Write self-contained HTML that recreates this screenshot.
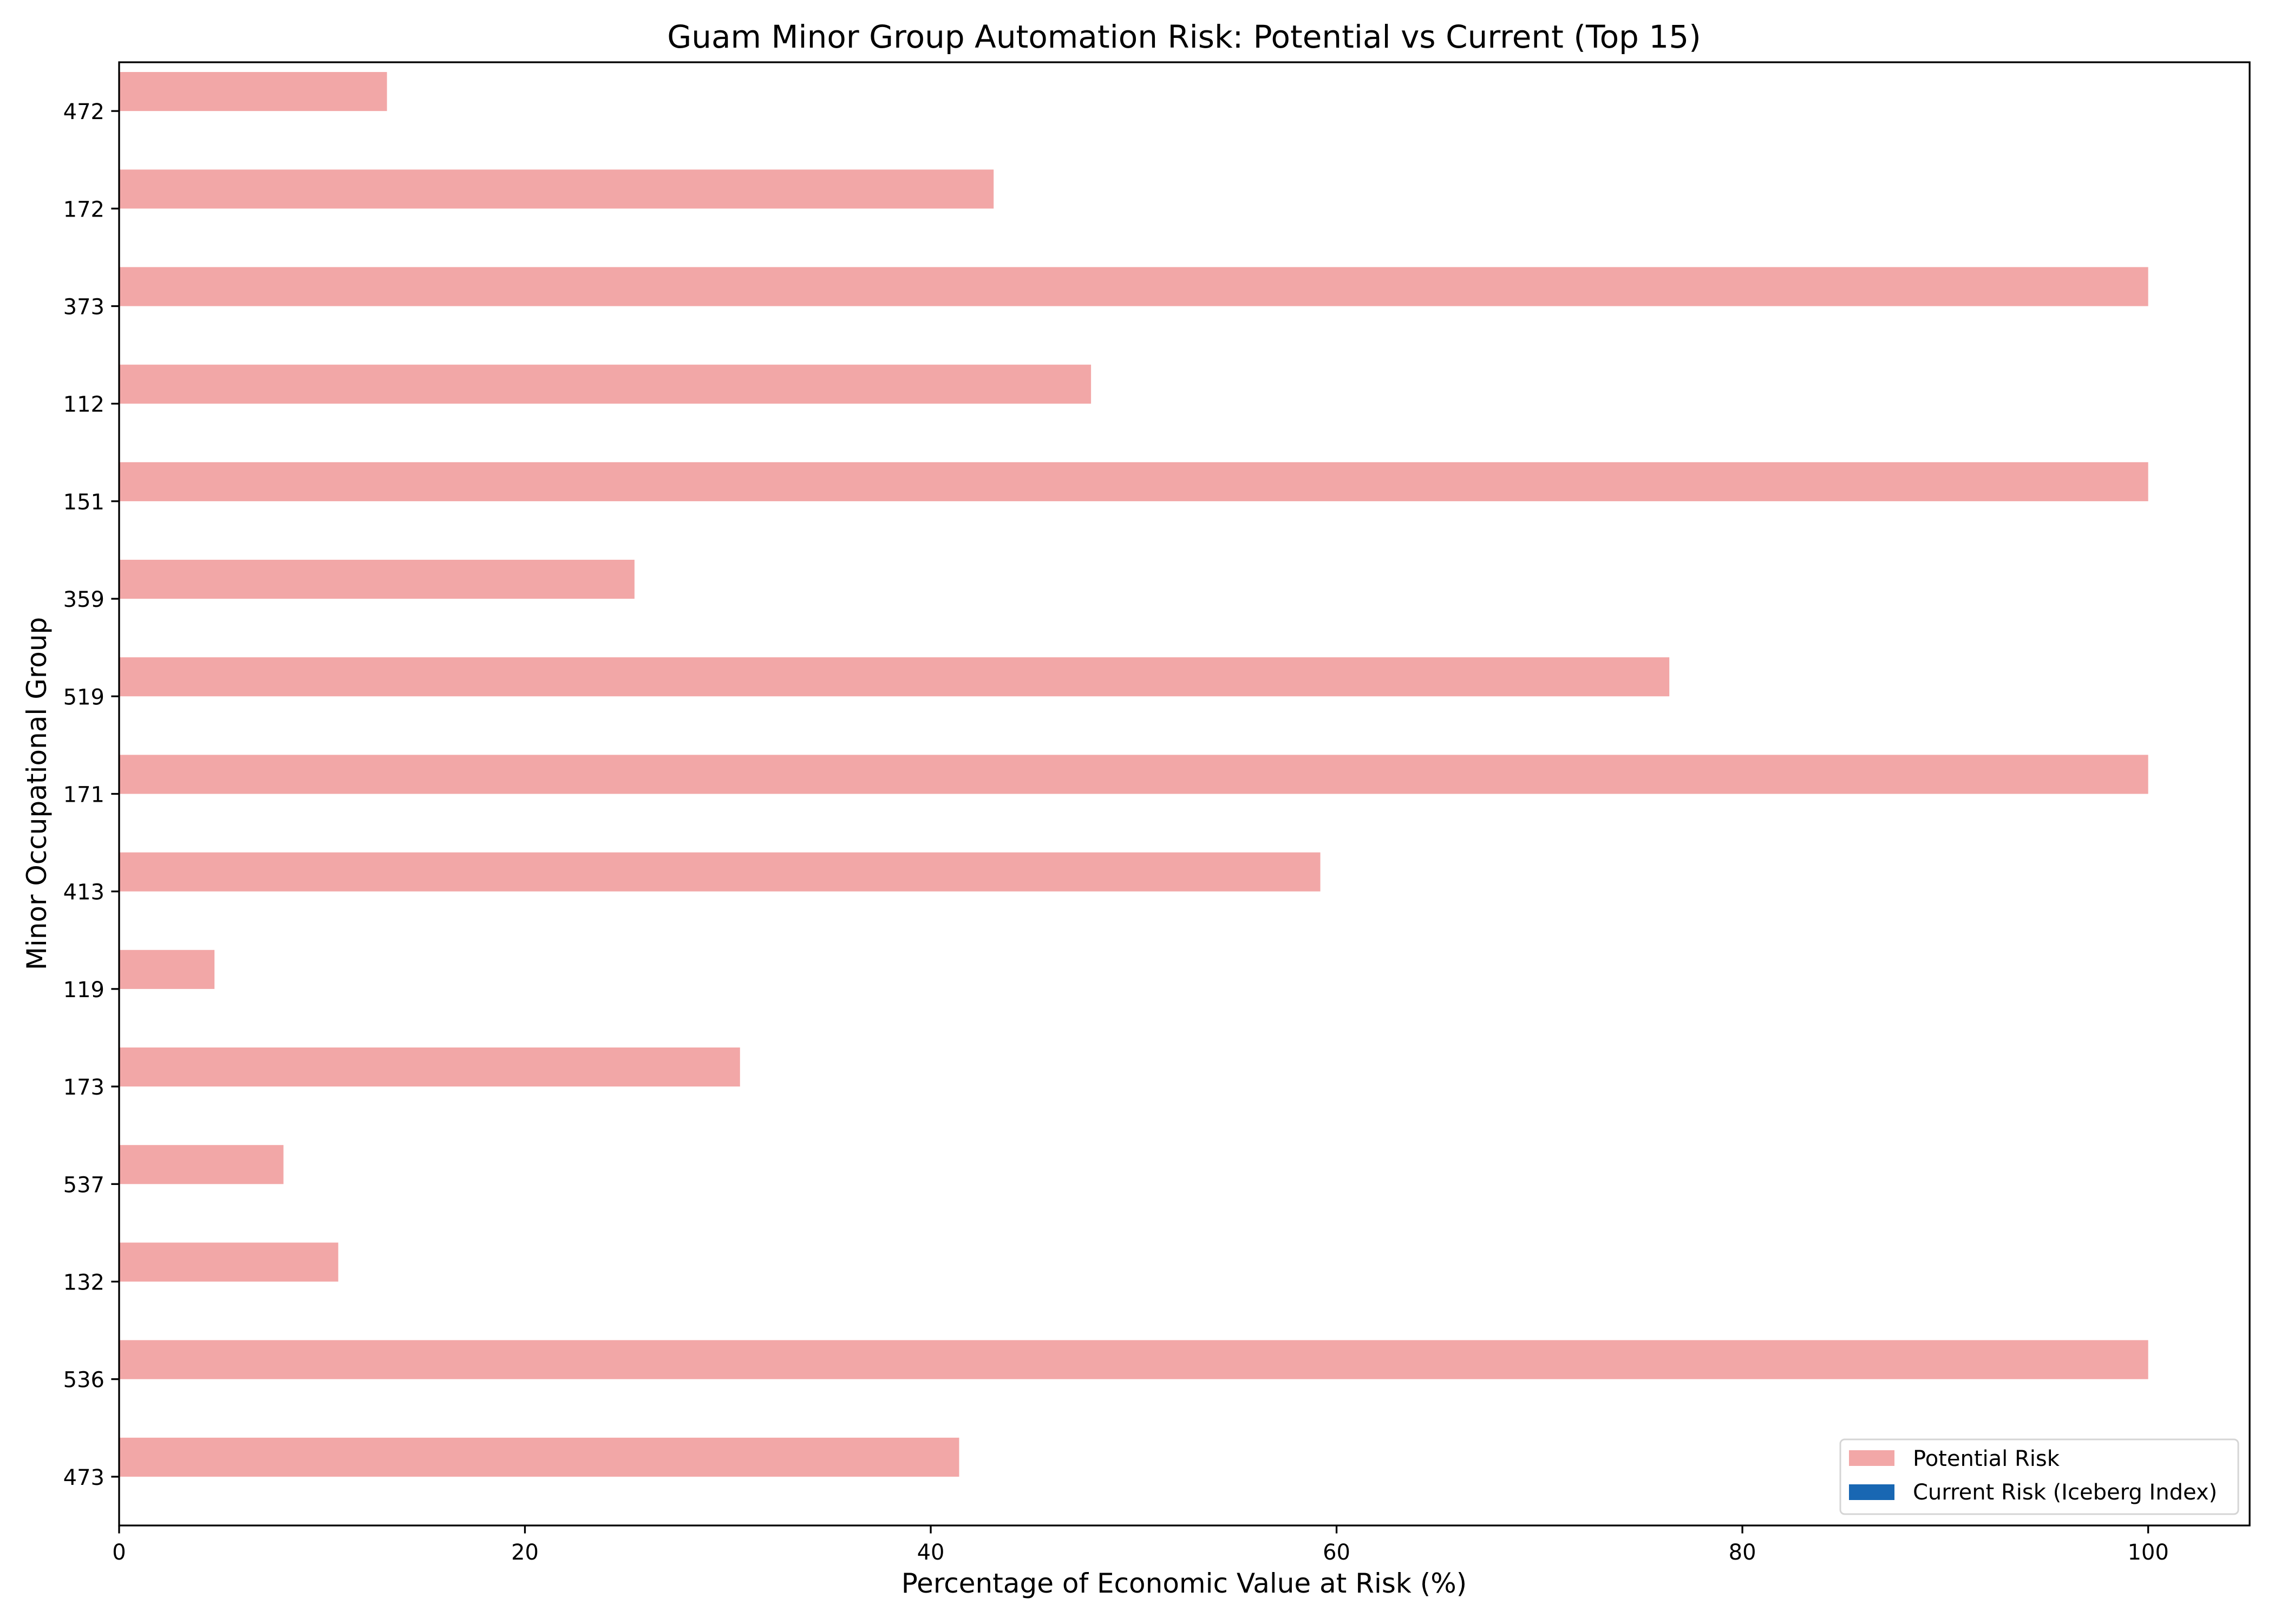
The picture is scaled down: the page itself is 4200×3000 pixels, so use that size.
<!DOCTYPE html>
<html><head><meta charset="utf-8">
<style>
html,body{margin:0;padding:0;background:#fff;}
svg{display:block;font-family:"DejaVu Sans","Liberation Sans",sans-serif;}
</style></head>
<body>
<svg id="chart" width="4200" height="3000" viewBox="0 0 4200 3000" xmlns="http://www.w3.org/2000/svg">
<rect width="4200" height="3000" fill="#fff"/>
<text x="2187" y="88" font-size="58" text-anchor="middle" fill="#000">Guam Minor Group Automation Risk: Potential vs Current (Top 15)</text>
<g id="bars"></g>
<g id="axes"></g>
<text x="2187" y="2942" font-size="50" text-anchor="middle" fill="#000">Percentage of Economic Value at Risk (%)</text>
<text transform="translate(85,1466) rotate(-90)" font-size="50" text-anchor="middle" fill="#000">Minor Occupational Group</text>
<g>
<rect x="3399" y="2659" width="735" height="138" rx="8" fill="#fff" stroke="#d5d5d5" stroke-width="3"/>
<rect x="3415" y="2679" width="84" height="29" fill="#f2a7a7"/>
<text x="3533" y="2708" font-size="40" fill="#000">Potential Risk</text>
<rect x="3415" y="2742" width="84" height="29" fill="#1967b3"/>
<text x="3533" y="2770" font-size="40" fill="#000">Current Risk (Iceberg Index)</text>
</g>
</svg>
<script>
const categories = ["472","172","373","112","151","359","519","171","413","119","173","537","132","536","473"];
const potentialValues = [13.2,43.1,100,47.9,100,25.4,76.4,100,59.2,4.7,30.6,8.1,10.8,100,41.4];
const currentValues = [0,0,0,0,0,0,0,0,0,0,0,0,0,0,0];
const xTicks = [0,20,40,60,80,100];

const L=220,R=4155,T=115,B=2818;
const xMin=0,xMax=105,yMin=-0.5,yMax=14.5;
const sx=v=>L+(v-xMin)/(xMax-xMin)*(R-L);
const sy=i=>T+(i-yMin)/(yMax-yMin)*(B-T);
const NS="http://www.w3.org/2000/svg";
const bars=document.getElementById('bars');
const axes=document.getElementById('axes');
function mk(tag,attrs,parent){const e=document.createElementNS(NS,tag);for(const k in attrs)e.setAttribute(k,attrs[k]);parent.appendChild(e);return e;}
const h=0.4;
categories.forEach((c,i)=>{
  const p=mk('rect',{x:sx(0),y:sy(i-h),width:sx(potentialValues[i])-sx(0),height:sy(i)-sy(i-h),fill:'#f2a7a7'},bars);
  
  
  const q=mk('rect',{x:sx(0),y:sy(i),width:Math.max(0,sx(currentValues[i])-sx(0)),height:sy(i+h)-sy(i),fill:'#1967b3'},bars);
  
  
  const t=mk('line',{x1:L,x2:L-14.6,y1:sy(i),y2:sy(i),stroke:'#000','stroke-width':3.3},axes);
  
  
  const lb=mk('text',{x:L-27,y:sy(i)+15,'font-size':40,'text-anchor':'end',fill:'#000'},axes);
  lb.textContent=c;
  
  
});
xTicks.forEach(v=>{
  const t=mk('line',{x1:sx(v),x2:sx(v),y1:B,y2:B+14.6,stroke:'#000','stroke-width':3.3},axes);
  
  
  const lb=mk('text',{x:sx(v),y:B+63,'font-size':40,'text-anchor':'middle',fill:'#000'},axes);
  lb.textContent=v;
  
  
});
const frame=mk('rect',{x:L,y:T,width:R-L,height:B-T,fill:'none',stroke:'#000','stroke-width':3.3},axes);


</script>
</body></html>
